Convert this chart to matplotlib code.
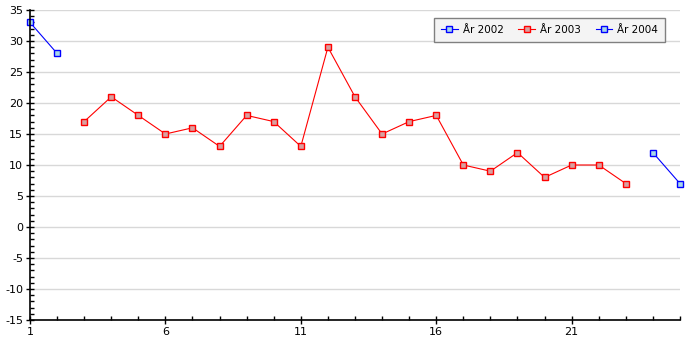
import matplotlib
matplotlib.use("Agg")
import matplotlib.pyplot as plt
from matplotlib.ticker import MultipleLocator

plt.rcParams["axes.unicode_minus"] = False

x2002 = [1, 2]
y2002 = [33, 28]
x2003 = list(range(3, 24))
y2003 = [17, 21, 18, 15, 16, 13, 18, 17, 13, 29, 21, 15, 17, 18, 10, 9, 12, 8, 10, 10, 7]
x2004 = [24, 25]
y2004 = [12, 7]
labels = ["År 2002", "År 2003", "År 2004"]

fig = plt.figure(figsize=(7, 3.5), dpi=100)
ax = fig.add_axes([30/700, 30/350, 650/700, 310/350])

ax.plot(x2002, y2002, color="#0000ff", lw=0.8, marker="s", ms=4.5, mfc="#a8d8e8", mec="#0000ff", mew=1.0, label=labels[0], clip_on=False)
ax.plot(x2003, y2003, color="#ff0000", lw=0.8, marker="s", ms=4.5, mfc="#d8a0a0", mec="#ff0000", mew=1.0, label=labels[1], clip_on=False)
ax.plot(x2004, y2004, color="#0000ff", lw=0.8, marker="s", ms=4.5, mfc="#a8d8e8", mec="#0000ff", mew=1.0, label=labels[2], clip_on=False)

ax.set_xlim(1, 25)
ax.set_ylim(-15, 35)
ax.xaxis.set_major_locator(MultipleLocator(5))
ax.xaxis.set_minor_locator(MultipleLocator(1))
ax.yaxis.set_major_locator(MultipleLocator(5))
ax.yaxis.set_minor_locator(MultipleLocator(1))
ax.set_xticks([1, 6, 11, 16, 21])
ax.tick_params(which="major", direction="inout", length=6, width=1, labelsize=8, colors="black")
ax.tick_params(which="minor", direction="in", length=3, width=1)
ax.grid(axis="y", which="major", color="#d8d8d8", lw=1)
ax.set_axisbelow(True)
for s in ["top", "right"]:
    ax.spines[s].set_visible(False)
for s in ["left", "bottom"]:
    ax.spines[s].set_linewidth(1.2)
ax.tick_params(axis="x", pad=2)
ax.tick_params(axis="y", pad=2)

leg = ax.legend(loc="upper right", bbox_to_anchor=(0.977, 0.974), borderaxespad=0, ncol=3, fontsize=7.5, frameon=True,
                fancybox=False, edgecolor="#808080", facecolor="#f4f4f4", framealpha=1,
                handlelength=1.6, handletextpad=0.5, columnspacing=1.4, borderpad=0.65)
leg.get_frame().set_linewidth(1)

fig.savefig("out.png", dpi=100)
